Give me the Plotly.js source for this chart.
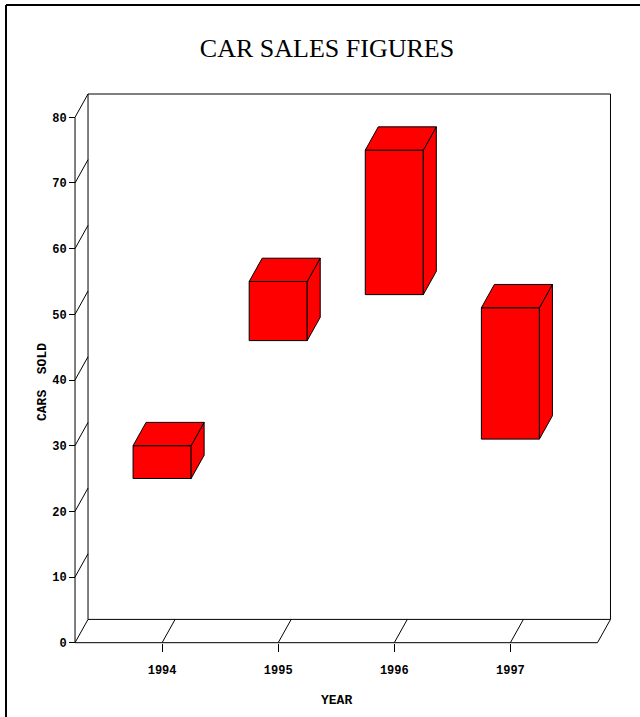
<!DOCTYPE html>
<html>
<head>
<meta charset="utf-8">
<script src="https://cdn.plot.ly/plotly-3.0.1.min.js"></script>
<style>
html,body{margin:0;padding:0;background:#fff;}
#chart{width:640px;height:717px;}
</style>
</head>
<body>
<div id="chart"></div>
<script>
// ---- data ----
const years = ['1994', '1995', '1996', '1997'];
const lowValues = [25, 46, 53, 31];
const highValues = [30, 55, 75, 51];
const yTickValues = [0, 10, 20, 30, 40, 50, 60, 70, 80];
const chartTitle = 'CAR SALES FIGURES';
const xTitle = 'YEAR';
const yTitle = 'CARS  SOLD';

// ---- geometry / style constants ----
const W = 640, H = 717;
const M = {l: 65, r: 20, t: 85, b: 65};
const PW = W - M.l - M.r, PH = H - M.t - M.b;
const KX = 116.1;          // px per category
const X0PX = 162.1;        // px of category 0
const KY = 6.5675;         // px per unit
const Y0PX = 642.7;        // px of value 0
const XL = -0.75, XR = 3.75;   // front floor extent (category units)
const YMAX = 80;
const DX = 13 / KX;        // depth offset in x units
const DY = 23.3 / KY;      // depth offset in y units
const BW = 0.5;            // bar width
const idx = years.map((_, i) => i);

const xRange = [(M.l - X0PX) / KX, (W - M.r - X0PX) / KX];
const yRange = [-(H - M.b - Y0PX) / KY, (Y0PX - M.t) / KY];
const pxToPaperX = px => (px - M.l) / PW;
const pxToPaperY = py => (H - M.b - py) / PH;

const LINE = {color: '#000', width: 1};
const RED = '#ff0000';

// frame lines
const fx = [], fy = [];
function seg(x1, y1, x2, y2) { fx.push(x1, x2, null); fy.push(y1, y2, null); }
// front y axis line
seg(XL, 0, XL, YMAX);
// back wall rectangle
fx.push(XL + DX, XL + DX, XR + DX, XR + DX, XL + DX, null);
fy.push(DY, YMAX + DY, YMAX + DY, DY, DY, null);
// floor
seg(XL, 0, XR, 0);
seg(XR, 0, XR + DX, DY);
// y slants
yTickValues.forEach(v => seg(XL, v, XL + DX, v + DY));
// x slants
idx.forEach(i => seg(i, 0, i + DX, DY));

const traces = [];
traces.push({
  type: 'scatter', mode: 'lines', x: fx, y: fy, connectgaps: false,
  line: LINE, hoverinfo: 'skip', showlegend: false
});
// front faces
traces.push({
  type: 'bar', x: idx, y: highValues.map((h, i) => h - lowValues[i]), base: lowValues,
  width: BW, marker: {color: RED, line: LINE}, hoverinfo: 'skip', showlegend: false
});
// side and top faces
idx.forEach(i => {
  const lo = lowValues[i], hi = highValues[i];
  const l = i - BW / 2, r = i + BW / 2;
  traces.push({
    type: 'scatter', mode: 'lines', fill: 'toself', fillcolor: RED, line: LINE,
    x: [r, r, r + DX, r + DX, r], y: [lo, hi, hi + DY, lo + DY, lo],
    hoverinfo: 'skip', showlegend: false
  });
  traces.push({
    type: 'scatter', mode: 'lines', fill: 'toself', fillcolor: RED, line: LINE,
    x: [l, l + DX, r + DX, r, l], y: [hi, hi + DY, hi + DY, hi, hi],
    hoverinfo: 'skip', showlegend: false
  });
});

const tickFont = {family: 'Liberation Mono, Courier New, monospace', size: 12, color: '#000', weight: 'bold'};

const layout = {
  width: W, height: H,
  margin: M,
  paper_bgcolor: '#fff', plot_bgcolor: '#fff',
  showlegend: false,
  title: {
    text: chartTitle, xref: 'container', yref: 'container',
    x: 327 / W, xanchor: 'center', y: 1 - 48 / H, yanchor: 'middle',
    font: {family: 'Liberation Serif, Times New Roman, serif', size: 26, color: '#000'}
  },
  xaxis: {
    range: xRange, showgrid: false, zeroline: false, showline: false,
    anchor: 'free', position: pxToPaperY(Y0PX),
    tickmode: 'array', tickvals: idx, ticktext: years,
    ticks: 'outside', ticklen: 8, tickwidth: 1, tickcolor: '#000',
    ticklabelstandoff: 8, tickfont: tickFont
  },
  yaxis: {
    range: yRange, showgrid: false, zeroline: false, showline: false,
    anchor: 'free', position: pxToPaperX(75),
    tickmode: 'array', tickvals: yTickValues,
    ticks: 'outside', ticklen: 6, tickwidth: 1, tickcolor: '#000',
    tickfont: tickFont
  },
  annotations: [
    {text: yTitle, xref: 'paper', yref: 'paper', x: pxToPaperX(42), y: pxToPaperY(382),
     xanchor: 'center', yanchor: 'middle', textangle: -90, showarrow: false,
     font: {family: 'Liberation Mono, Courier New, monospace', size: 13, color: '#000', weight: 'bold'}},
    {text: xTitle, xref: 'paper', yref: 'paper', x: pxToPaperX(336), y: pxToPaperY(700),
     xanchor: 'center', yanchor: 'middle', showarrow: false,
     font: {family: 'Liberation Mono, Courier New, monospace', size: 13, color: '#000', weight: 'bold'}}
  ],
  shapes: [
    {type: 'line', xref: 'paper', yref: 'paper', x0: pxToPaperX(6), y0: pxToPaperY(5), x1: pxToPaperX(640), y1: pxToPaperY(5), line: {color: '#000', width: 2}},
    {type: 'line', xref: 'paper', yref: 'paper', x0: pxToPaperX(6), y0: pxToPaperY(5), x1: pxToPaperX(6), y1: pxToPaperY(717), line: {color: '#000', width: 2}}
  ]
};

Plotly.newPlot('chart', traces, layout, {staticPlot: true, displayModeBar: false});
</script>
</body>
</html>
